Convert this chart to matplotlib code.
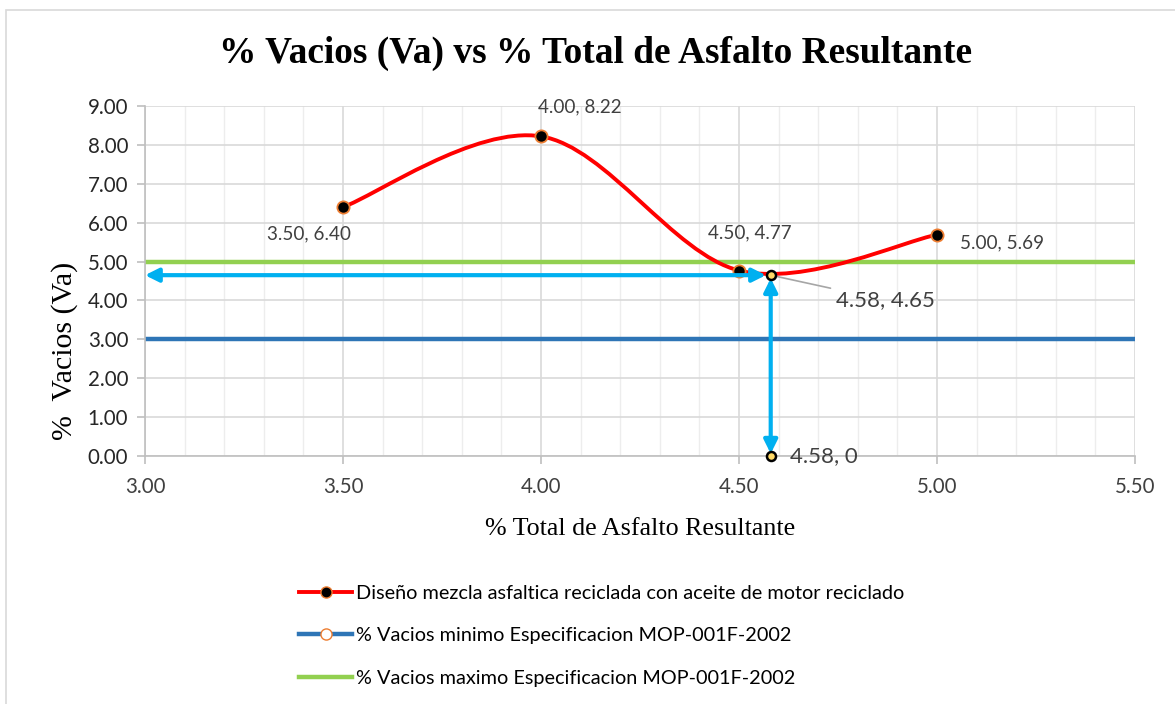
import matplotlib
matplotlib.use("Agg")
import matplotlib.pyplot as plt
from matplotlib.path import Path
from matplotlib.patches import PathPatch, Rectangle
from matplotlib.lines import Line2D
from matplotlib.ticker import MultipleLocator, FormatStrFormatter

# design series
asfalto = [3.50, 4.00, 4.50, 5.00]
vacios = [6.40, 8.22, 4.77, 5.69]
labels = ["3.50, 6.40", "4.00, 8.22", "4.50, 4.77", "5.00, 5.69"]

# spec limits
va_min = 3.0
va_max = 5.0

# read-off point
opt_x = 4.58
opt_y = 4.65

RED = "#FF0000"
BLUE = "#2E75B6"
GREEN = "#92D050"
CYAN = "#00B0F0"
ORANGE = "#ED7D31"
SANS = ["Lato", "DejaVu Sans"]
SERIF = ["Liberation Serif", "DejaVu Serif"]

fig = plt.figure(figsize=(11.75, 7.04), dpi=100)
ax = fig.add_axes([0.1234, 0.3523, 0.8426, 0.4971])

ax.set_xlim(3.0, 5.5)
ax.set_ylim(0, 9)
ax.xaxis.set_major_locator(MultipleLocator(0.5))
ax.xaxis.set_minor_locator(MultipleLocator(0.1))
ax.yaxis.set_major_locator(MultipleLocator(1.0))
ax.grid(True, which="major", color="#D9D9D9", linewidth=1.2, zorder=0)
ax.grid(True, which="minor", axis="x", color="#EDEDED", linewidth=1.0, zorder=0)
ax.set_axisbelow(True)
for s in ["top", "right"]:
    ax.spines[s].set_visible(False)
for s in ["left", "bottom"]:
    ax.spines[s].set_color("#BFBFBF")
    ax.spines[s].set_linewidth(1.2)
ax.tick_params(which="major", length=6, color="#BFBFBF", width=1.2, pad=6,
               labelsize=14.8, labelcolor="#262626")
ax.tick_params(axis="x", which="major", labelcolor="#404040", pad=9)
ax.tick_params(which="minor", length=0)
ax.xaxis.set_major_formatter(FormatStrFormatter("%.2f"))
ax.yaxis.set_major_formatter(FormatStrFormatter("%.2f"))
for lab in ax.get_xticklabels() + ax.get_yticklabels():
    lab.set_family(SANS)

# spec lines
ax.axhline(va_max, color=GREEN, linewidth=3.2, zorder=2)
ax.axhline(va_min, color=BLUE, linewidth=3.2, zorder=2)

# smoothed curve (Excel-style bezier between points)
pts = list(zip(asfalto, vacios))
verts = [pts[0]]
codes = [Path.MOVETO]
for i in range(len(pts) - 1):
    p0 = pts[max(i - 1, 0)]
    p1 = pts[i]
    p2 = pts[i + 1]
    p3 = pts[min(i + 2, len(pts) - 1)]
    c1 = (p1[0] + (p2[0] - p0[0]) / 6, p1[1] + (p2[1] - p0[1]) / 6)
    c2 = (p2[0] - (p3[0] - p1[0]) / 6, p2[1] - (p3[1] - p1[1]) / 6)
    verts += [c1, c2, p2]
    codes += [Path.CURVE4] * 3
ax.add_patch(PathPatch(Path(verts, codes), facecolor="none", edgecolor=RED,
                       linewidth=2.8, zorder=3, capstyle="round"))
ax.plot(asfalto, vacios, linestyle="none", marker="o", markersize=8.8,
        markerfacecolor="black", markeredgecolor=ORANGE, markeredgewidth=1.3, zorder=4)

# data labels (offsets in points)
lab_off = [(-55, -19.5), (-2, 21.5), (8, 27), (16.5, -6)]
lab_ha = ["left", "left", "center", "left"]
for (x, y), t, off, ha in zip(pts, labels, lab_off, lab_ha):
    ax.annotate(t, (x, y), xytext=off, textcoords="offset points", ha=ha, va="center",
                fontsize=13.6, color="#404040", family=SANS, zorder=6)

# read-off arrows
arrow_kw = dict(arrowstyle="<|-|>", color=CYAN, lw=3, mutation_scale=20,
                shrinkA=0, shrinkB=0)
ax.annotate("", xy=(3.0, opt_y), xytext=(opt_x - 0.012, opt_y),
            arrowprops=arrow_kw, zorder=5)
ax.annotate("", xy=(opt_x, opt_y - 0.08), xytext=(opt_x, 0.06),
            arrowprops=arrow_kw, zorder=5)
ax.plot([opt_x, opt_x], [opt_y, 0], linestyle="none", marker="o", markersize=6.5,
        markerfacecolor="#FFD966", markeredgecolor="black", markeredgewidth=1.8,
        zorder=7, clip_on=False)
ax.annotate(f"{opt_x:.2f}, {opt_y:.2f}", (opt_x, opt_y), xytext=(47, -18),
            textcoords="offset points", ha="left", va="center", fontsize=16,
            color="#404040", family=SANS,
            arrowprops=dict(arrowstyle="-", color="#A6A6A6", lw=1.2, shrinkA=2, shrinkB=2))
ax.annotate(f"{opt_x:.2f}, 0", (opt_x, 0), xytext=(14, 0), textcoords="offset points",
            ha="left", va="center", fontsize=16, color="#404040", family=SANS)

# titles
fig.text(0.507, 0.924, "% Vacios (Va) vs % Total de Asfalto Resultante", ha="center",
         va="center", fontsize=26.9, fontweight="bold", family=SERIF)
ax.set_xlabel("% Total de Asfalto Resultante", fontsize=18.75, family=SERIF, labelpad=15)
ax.set_ylabel("%  Vacios (Va)", fontsize=21.5, family=SERIF)
ax.yaxis.set_label_coords(-0.068, 0.30)

# legend
handles = [
    Line2D([], [], color=RED, lw=2.8, marker="o", markersize=8, markerfacecolor="black",
           markeredgecolor=ORANGE),
    Line2D([], [], color=BLUE, lw=3.2, marker="o", markersize=8, markerfacecolor="white",
           markeredgecolor=ORANGE),
    Line2D([], [], color=GREEN, lw=3.2),
]
names = [
    "Diseño mezcla asfaltica reciclada con aceite de motor reciclado",
    "% Vacios minimo Especificacion MOP-001F-2002",
    "% Vacios maximo Especificacion MOP-001F-2002",
]
fig.legend(handles, names, loc="upper left", bbox_to_anchor=(0.248, 0.181),
           frameon=False, prop={"family": SANS, "size": 14.3}, handlelength=2.65,
           handletextpad=0.2, labelspacing=1.3, borderaxespad=0)

# chart area border
fig.patches.append(Rectangle((0.005, -0.01), 1.0, 0.996, transform=fig.transFigure,
                             fill=False, edgecolor="#D9D9D9", linewidth=1.2))

fig.savefig("out.png", dpi=100, facecolor="white")
